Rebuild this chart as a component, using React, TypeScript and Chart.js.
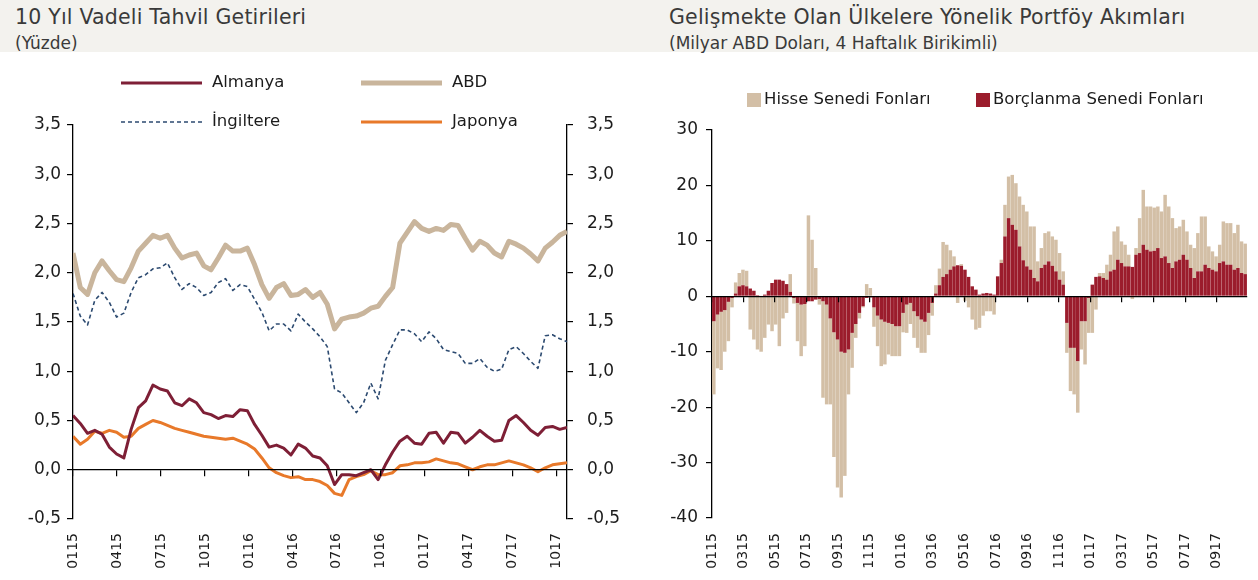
import React, { useEffect, useRef } from 'react';
import { Chart, registerables } from 'chart.js';

Chart.register(...registerables);

// ---------------- Left chart: 10 Yıl Vadeli Tahvil Getirileri ----------------
const X_LABELS_L = ['0115', '0415', '0715', '1015', '0116', '0416', '0716', '1016', '0117', '0417', '0717', '1017'];
const MONTHS_PER_LABEL_L = 3;
const LAST_MONTH_L = 33.7; // last observation, months after Jan 2015
const Y_MIN_L = -0.5;
const Y_MAX_L = 3.5;
const Y_STEP_L = 0.5;

const ALMANYA = [0.55, 0.47, 0.37, 0.40, 0.36, 0.23, 0.16, 0.12, 0.41, 0.63, 0.70, 0.86, 0.82, 0.80, 0.68, 0.65, 0.72, 0.68, 0.58, 0.56, 0.52, 0.55, 0.54, 0.61, 0.60, 0.46, 0.35, 0.23, 0.25, 0.22, 0.15, 0.26, 0.22, 0.14, 0.12, 0.04, -0.15, -0.05, -0.05, -0.06, -0.03, 0.00, -0.10, 0.05, 0.18, 0.29, 0.34, 0.27, 0.26, 0.37, 0.38, 0.27, 0.38, 0.37, 0.27, 0.33, 0.40, 0.34, 0.29, 0.30, 0.50, 0.55, 0.48, 0.40, 0.35, 0.43, 0.44, 0.41, 0.43];
const ABD = [2.20, 1.85, 1.78, 2.00, 2.12, 2.02, 1.93, 1.91, 2.05, 2.22, 2.30, 2.38, 2.35, 2.38, 2.25, 2.15, 2.18, 2.20, 2.07, 2.03, 2.15, 2.28, 2.22, 2.22, 2.25, 2.08, 1.88, 1.74, 1.85, 1.89, 1.77, 1.78, 1.83, 1.75, 1.80, 1.68, 1.43, 1.53, 1.55, 1.56, 1.59, 1.64, 1.66, 1.76, 1.85, 2.30, 2.41, 2.52, 2.45, 2.42, 2.45, 2.43, 2.49, 2.48, 2.35, 2.23, 2.32, 2.28, 2.20, 2.16, 2.32, 2.29, 2.25, 2.19, 2.12, 2.25, 2.31, 2.38, 2.42];
const INGILTERE = [1.79, 1.56, 1.47, 1.72, 1.80, 1.70, 1.55, 1.59, 1.80, 1.95, 1.98, 2.04, 2.05, 2.10, 1.95, 1.83, 1.89, 1.85, 1.77, 1.80, 1.90, 1.94, 1.82, 1.88, 1.86, 1.73, 1.60, 1.41, 1.48, 1.48, 1.41, 1.58, 1.50, 1.43, 1.35, 1.25, 0.82, 0.78, 0.68, 0.58, 0.68, 0.88, 0.72, 1.11, 1.27, 1.42, 1.42, 1.38, 1.30, 1.40, 1.33, 1.22, 1.20, 1.18, 1.08, 1.08, 1.13, 1.04, 1.00, 1.02, 1.22, 1.25, 1.18, 1.10, 1.03, 1.36, 1.37, 1.33, 1.30];
const JAPONYA = [0.34, 0.26, 0.31, 0.39, 0.37, 0.40, 0.38, 0.33, 0.34, 0.42, 0.46, 0.50, 0.48, 0.45, 0.42, 0.40, 0.38, 0.36, 0.34, 0.33, 0.32, 0.31, 0.32, 0.29, 0.26, 0.21, 0.12, 0.02, -0.03, -0.06, -0.08, -0.07, -0.10, -0.10, -0.12, -0.16, -0.24, -0.26, -0.10, -0.07, -0.05, -0.01, -0.05, -0.05, -0.03, 0.04, 0.05, 0.07, 0.07, 0.08, 0.11, 0.09, 0.07, 0.06, 0.03, 0.00, 0.03, 0.05, 0.05, 0.07, 0.09, 0.07, 0.05, 0.02, -0.02, 0.02, 0.05, 0.06, 0.07];

// ---------------- Right chart: Portföy Akımları (weekly bars) ----------------
const X_LABELS_R = ['0115', '0315', '0515', '0715', '0915', '1115', '0116', '0316', '0516', '0716', '0916', '1116', '0117', '0317', '0517', '0717', '0917'];
const MONTHS_PER_LABEL_R = 2;
const WEEKS_PER_MONTH = 52 / 12;
const Y_MIN_R = -40;
const Y_MAX_R = 30;
const Y_STEP_R = 10;

const BORCLANMA = [
  -4.5, -3.3, -2.8, -2.5, -1.0, -0.3, 0.5, 1.8, 2.0, 1.8,
  1.4, 1.0, 0.2, 0.1, 0.3, 1.0, 2.4, 3.0, 3.0, 2.8,
  2.2, 0.8, -0.3, -1.2, -1.5, -1.4, -0.9, -0.9, -0.6, -0.5,
  -0.9, -1.5, -4.0, -6.5, -7.8, -10.0, -10.2, -9.6, -6.6, -5.0,
  -3.0, -1.8, -0.3, -0.2, -2.0, -3.5, -4.2, -4.6, -4.8, -5.0,
  -5.4, -5.4, -3.0, -1.5, -1.2, -2.7, -3.6, -4.2, -4.6, -3.0,
  -1.2, 0.5, 2.0, 3.5, 4.0, 4.8, 5.4, 5.6, 5.5, 4.8,
  3.5, 1.8, 1.2, 0.3, 0.5, 0.6, 0.5, 0.3, 3.6, 6.0,
  10.8, 14.1, 12.9, 12.0, 9.0, 6.5, 5.4, 4.8, 3.3, 2.7,
  5.1, 5.7, 6.3, 5.5, 4.5, 3.0, 2.1, -4.8, -9.3, -9.3,
  -11.7, -4.5, -4.5, -0.3, 2.1, 3.5, 3.6, 3.3, 3.0, 4.5,
  4.8, 6.6, 6.0, 5.4, 5.4, 5.3, 7.5, 7.8, 9.3, 8.4,
  8.1, 8.2, 8.7, 6.9, 7.2, 6.0, 5.1, 6.3, 6.6, 7.5,
  6.6, 5.1, 3.3, 4.5, 4.5, 5.7, 5.1, 4.8, 4.5, 6.0,
  6.3, 5.7, 5.7, 4.8, 5.1, 4.2, 4.0,
];
const HISSE = [
  -13.2, -9.7, -10.5, -7.5, -7.1, -1.7, 2.0, 2.4, 2.8, 2.8,
  -6.0, -7.8, -9.6, -10.0, -7.5, -5.1, -6.3, -5.1, -9.0, -4.0,
  -3.0, 3.2, -1.0, -6.9, -9.3, -7.6, 14.6, 10.2, 5.1, -1.0,
  -17.4, -18.0, -15.5, -22.5, -26.7, -26.3, -22.2, -8.1, -6.3, -2.5,
  -1.0, -0.2, 2.2, 1.5, -3.5, -5.5, -8.4, -7.7, -5.7, -5.8,
  -5.4, -5.4, -3.5, -5.1, -3.8, -4.8, -5.7, -6.0, -5.6, -4.0,
  -2.3, 1.5, 3.0, 6.3, 5.3, 3.5, 1.8, -1.2, 0.3, -0.8,
  -2.0, -4.2, -6.0, -5.7, -3.5, -2.7, -2.7, -3.3, 0.0, 0.6,
  5.7, 7.5, 9.0, 8.4, 9.0, 10.0, 9.9, 7.8, 9.3, 3.6,
  3.6, 5.7, 5.4, 5.3, 5.7, 4.8, 2.4, -5.4, -7.8, -8.4,
  -9.3, -5.1, -7.8, -6.3, -6.6, -2.4, 0.6, 0.9, 2.7, 3.0,
  6.9, 6.0, 3.9, 3.9, 2.1, -0.5, 1.2, 6.3, 9.9, 7.8,
  8.1, 7.8, 7.5, 8.4, 11.1, 10.2, 9.0, 6.0, 6.0, 6.3,
  5.1, 4.2, 5.4, 6.9, 9.9, 8.7, 3.9, 3.3, 2.7, 3.3,
  7.2, 7.5, 7.5, 6.6, 7.8, 5.7, 5.5,
];

// ---------------- Styling ----------------
const SANS = '"DejaVu Sans", "Liberation Sans", sans-serif';
const INK = '#1c1c1c';
const AXIS = '#000000';
const C_ALMANYA = '#7e1f36';
const C_ABD = '#c9b59c';
const C_INGILTERE = '#2c4a70';
const C_JAPONYA = '#e8792a';
const C_HISSE = '#d3bfa6';
const C_BORC = '#9b1c2c';

Chart.defaults.font.family = SANS;

const commaFmt = (v: any) => Number(v).toFixed(1).replace('.', ',');

// Legend drawn inside the canvas, placed relative to the chart area.
function makeLegend(cfg: {
  id: string;
  marker: 'line' | 'square';
  markerWidth: number;
  gap: number;
  font: string;
  items: { datasetIndex: number; dx: number; dy: number }[];
}) {
  return {
    id: cfg.id,
    afterDraw(chart: any) {
      const { ctx, chartArea } = chart;
      ctx.save();
      ctx.font = cfg.font;
      ctx.textBaseline = 'middle';
      ctx.textAlign = 'left';
      for (const it of cfg.items) {
        const ds = chart.data.datasets[it.datasetIndex];
        const x = chartArea.left + it.dx;
        const y = chartArea.top + it.dy;
        if (cfg.marker === 'line') {
          ctx.strokeStyle = ds.borderColor;
          ctx.lineWidth = ds.borderWidth;
          ctx.lineCap = 'butt';
          ctx.setLineDash(ds.borderDash || []);
          ctx.beginPath();
          ctx.moveTo(x, y);
          ctx.lineTo(x + cfg.markerWidth, y);
          ctx.stroke();
          ctx.setLineDash([]);
        } else {
          ctx.fillStyle = ds.backgroundColor;
          ctx.fillRect(x, y - cfg.markerWidth / 2, cfg.markerWidth, cfg.markerWidth);
        }
        ctx.fillStyle = INK;
        ctx.fillText(ds.label, x + cfg.markerWidth + cfg.gap, y);
      }
      ctx.restore();
    },
  };
}

function toPoints(values: number[], step: number, offset = 0) {
  return values.map((v, i) => ({ x: (i + offset) * step, y: v }));
}

const X_TICK_FONT = { family: SANS, size: 14 };
const Y_TICK_FONT = { family: SANS, size: 17 };

function leftConfig(): any {
  const step = LAST_MONTH_L / (ALMANYA.length - 1);
  const line = { pointRadius: 0, tension: 0, fill: false, borderJoinStyle: 'round', xAxisID: 'x', yAxisID: 'y' };
  const yCommon = {
    min: Y_MIN_L,
    max: Y_MAX_L,
    grid: { drawOnChartArea: false, drawTicks: true, tickLength: 6, color: AXIS, lineWidth: 1.2 },
    border: { display: true, color: AXIS, width: 1.3 },
  };
  return {
    type: 'line',
    data: {
      datasets: [
        { ...line, label: 'Almanya', data: toPoints(ALMANYA, step), borderColor: C_ALMANYA, borderWidth: 3 },
        { ...line, label: 'ABD', data: toPoints(ABD, step), borderColor: C_ABD, borderWidth: 5 },
        { ...line, label: 'İngiltere', data: toPoints(INGILTERE, step), borderColor: C_INGILTERE, borderWidth: 1.6, borderDash: [4, 3] },
        { ...line, label: 'Japonya', data: toPoints(JAPONYA, step), borderColor: C_JAPONYA, borderWidth: 3 },
      ],
    },
    options: {
      responsive: false,
      animation: false,
      events: [],
      layout: { padding: { top: 73, left: 0, right: 0, bottom: 0 } },
      plugins: { legend: { display: false }, tooltip: { enabled: false } },
      scales: {
        x: {
          type: 'linear',
          axis: 'x',
          position: 'bottom',
          min: 0,
          max: LAST_MONTH_L,
          offset: false,
          grid: { display: false, drawTicks: false },
          border: { display: false },
          ticks: {
            stepSize: MONTHS_PER_LABEL_L,
            includeBounds: false,
            autoSkip: false,
            minRotation: 90,
            maxRotation: 90,
            padding: 14,
            color: INK,
            font: X_TICK_FONT,
            callback: (v: any) => X_LABELS_L[Math.round(Number(v) / MONTHS_PER_LABEL_L)] ?? '',
          },
          afterFit: (s: any) => { s.height = 61; },
        },
        x0: {
          type: 'linear',
          axis: 'x',
          position: { y: 0 },
          min: 0,
          max: LAST_MONTH_L,
          offset: false,
          grid: { drawOnChartArea: false, drawTicks: true, tickLength: 6, color: AXIS, lineWidth: 1.2, z: 1 },
          border: { display: true, color: AXIS, width: 1.3, z: 1 },
          ticks: { display: false, stepSize: MONTHS_PER_LABEL_L, includeBounds: false },
        },
        y: {
          ...yCommon,
          type: 'linear',
          position: 'left',
          ticks: { stepSize: Y_STEP_L, padding: 6, color: INK, font: Y_TICK_FONT, callback: commaFmt },
          afterFit: (s: any) => { s.width = 73; },
        },
        yR: {
          ...yCommon,
          type: 'linear',
          axis: 'y',
          position: 'right',
          ticks: { stepSize: Y_STEP_L, padding: 14, color: INK, font: Y_TICK_FONT, callback: commaFmt },
          afterFit: (s: any) => { s.width = 63; },
        },
      },
    },
    plugins: [
      makeLegend({
        id: 'legendLeft',
        marker: 'line',
        markerWidth: 81,
        gap: 10,
        font: `16.5px ${SANS}`,
        items: [
          { datasetIndex: 0, dx: 48, dy: -42 },
          { datasetIndex: 1, dx: 288, dy: -42 },
          { datasetIndex: 2, dx: 48, dy: -3 },
          { datasetIndex: 3, dx: 288, dy: -3 },
        ],
      }),
    ],
  };
}

function rightConfig(): any {
  const step = 1 / WEEKS_PER_MONTH;
  const lastMonth = BORCLANMA.length / WEEKS_PER_MONTH;
  const bar = { barPercentage: 0.96, categoryPercentage: 1, borderWidth: 0, xAxisID: 'x', yAxisID: 'y' };
  return {
    type: 'bar',
    data: {
      datasets: [
        { ...bar, label: 'Borçlanma Senedi Fonları', data: toPoints(BORCLANMA, step, 0.5), backgroundColor: C_BORC },
        { ...bar, label: 'Hisse Senedi Fonları', data: toPoints(HISSE, step, 0.5), backgroundColor: C_HISSE },
      ],
    },
    options: {
      responsive: false,
      animation: false,
      events: [],
      layout: { padding: { top: 78, left: 0, right: 11, bottom: 0 } },
      plugins: { legend: { display: false }, tooltip: { enabled: false } },
      scales: {
        x: {
          type: 'linear',
          axis: 'x',
          position: 'bottom',
          stacked: true,
          min: 0,
          max: lastMonth,
          offset: false,
          grid: { display: false, drawTicks: false, offset: false },
          border: { display: false },
          ticks: {
            stepSize: MONTHS_PER_LABEL_R,
            includeBounds: false,
            autoSkip: false,
            minRotation: 90,
            maxRotation: 90,
            padding: 15,
            color: INK,
            font: X_TICK_FONT,
            callback: (v: any) => X_LABELS_R[Math.round(Number(v) / MONTHS_PER_LABEL_R)] ?? '',
          },
          afterFit: (s: any) => { s.height = 62; },
        },
        x0: {
          type: 'linear',
          axis: 'x',
          position: { y: 0 },
          min: 0,
          max: lastMonth,
          offset: false,
          grid: { drawOnChartArea: false, drawTicks: true, tickLength: 5, color: AXIS, lineWidth: 1.2, offset: false, z: 1 },
          border: { display: true, color: AXIS, width: 1.3, z: 1 },
          ticks: { display: false, stepSize: MONTHS_PER_LABEL_R, includeBounds: false },
        },
        y: {
          type: 'linear',
          position: 'left',
          stacked: true,
          min: Y_MIN_R,
          max: Y_MAX_R,
          grid: { drawOnChartArea: false, drawTicks: true, tickLength: 6, color: AXIS, lineWidth: 1.2 },
          border: { display: true, color: AXIS, width: 1.3 },
          ticks: { stepSize: Y_STEP_R, padding: 8, color: INK, font: Y_TICK_FONT },
          afterFit: (s: any) => { s.width = 82; },
        },
      },
    },
    plugins: [
      makeLegend({
        id: 'legendRight',
        marker: 'square',
        markerWidth: 14,
        gap: 3,
        font: `16.5px ${SANS}`,
        items: [
          { datasetIndex: 1, dx: 35, dy: -30 },
          { datasetIndex: 0, dx: 264, dy: -30 },
        ],
      }),
    ],
  };
}

export default function App() {
  const leftRef = useRef<HTMLCanvasElement>(null);
  const rightRef = useRef<HTMLCanvasElement>(null);

  useEffect(() => {
    const left = new Chart(leftRef.current as HTMLCanvasElement, leftConfig());
    const right = new Chart(rightRef.current as HTMLCanvasElement, rightConfig());
    return () => {
      left.destroy();
      right.destroy();
    };
  }, []);

  const titleStyle: React.CSSProperties = {
    position: 'absolute', top: 5, fontSize: 20.5, lineHeight: '24px', letterSpacing: '0.2px', color: '#3a3a3a', whiteSpace: 'nowrap', fontFamily: SANS,
  };
  const subStyle: React.CSSProperties = {
    position: 'absolute', top: 33, fontSize: 17, lineHeight: '20px', color: '#3a3a3a', whiteSpace: 'nowrap', fontFamily: SANS,
  };

  return (
    <div style={{ position: 'absolute', left: 0, top: 0, width: 1258, height: 580, background: '#ffffff', overflow: 'hidden' }}>
      <div style={{ position: 'absolute', left: 0, top: 0, width: 1258, height: 52, background: '#f3f2ee' }} />
      <div style={{ ...titleStyle, left: 15 }}>10 Yıl Vadeli Tahvil Getirileri</div>
      <div style={{ ...subStyle, left: 15 }}>(Yüzde)</div>
      <div style={{ ...titleStyle, left: 669 }}>Gelişmekte Olan Ülkelere Yönelik Portföy Akımları</div>
      <div style={{ ...subStyle, left: 669 }}>(Milyar ABD Doları, 4 Haftalık Birikimli)</div>
      <canvas ref={leftRef} width={630} height={528} style={{ position: 'absolute', left: 0, top: 52, width: 630, height: 528 }} />
      <canvas ref={rightRef} width={628} height={528} style={{ position: 'absolute', left: 630, top: 52, width: 628, height: 528 }} />
    </div>
  );
}
